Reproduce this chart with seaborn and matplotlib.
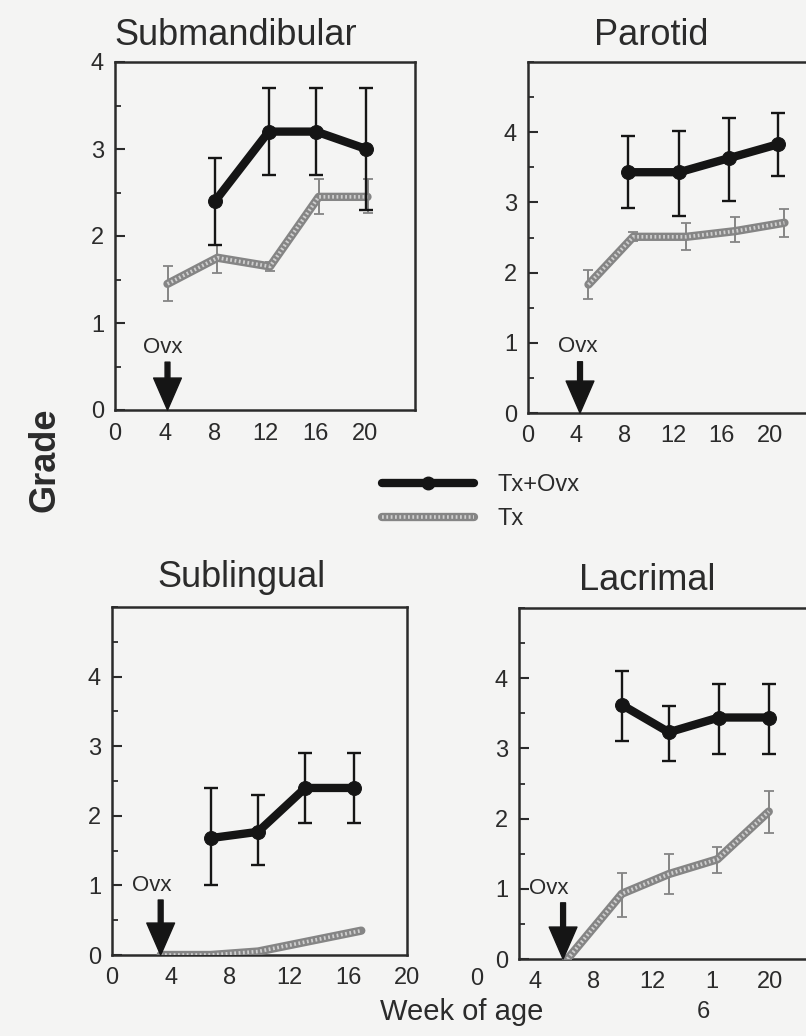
import numpy as np
import pandas as pd
import matplotlib
matplotlib.use("Agg")
import matplotlib.pyplot as plt
from matplotlib.lines import Line2D
from matplotlib.legend_handler import HandlerTuple
from matplotlib.ticker import MultipleLocator, FixedLocator
import matplotlib.transforms as mtransforms
import seaborn as sns

# ---------------- data ----------------
panel_titles = ["Submandibular", "Parotid", "Sublingual", "Lacrimal"]
series_names = ["Tx+Ovx", "Tx"]

# Submandibular
sm_ovx_x = [8.0, 12.3, 16.1, 20.1]
sm_ovx_y = [2.4, 3.2, 3.2, 3.0]
sm_ovx_lo = [1.9, 2.7, 2.7, 2.3]
sm_ovx_hi = [2.9, 3.7, 3.7, 3.7]
sm_tx_x = [4.2, 8.2, 12.4, 16.3, 20.2]
sm_tx_y = [1.45, 1.75, 1.65, 2.45, 2.45]
sm_tx_lo = [1.25, 1.57, 1.6, 2.25, 2.27]
sm_tx_hi = [1.65, 1.9, 1.7, 2.65, 2.65]

# Parotid
pa_ovx_x = [8.3, 12.5, 16.6, 20.7]
pa_ovx_y = [3.43, 3.43, 3.63, 3.83]
pa_ovx_lo = [2.92, 2.8, 3.02, 3.38]
pa_ovx_hi = [3.94, 4.02, 4.2, 4.27]
pa_tx_x = [5.0, 8.7, 13.1, 17.1, 21.2]
pa_tx_y = [1.83, 2.51, 2.51, 2.59, 2.71]
pa_tx_lo = [1.63, 2.45, 2.32, 2.43, 2.51]
pa_tx_hi = [2.04, 2.58, 2.71, 2.79, 2.9]

# Sublingual
sl_ovx_x = [6.7, 9.9, 13.1, 16.4]
sl_ovx_y = [1.68, 1.77, 2.4, 2.4]
sl_ovx_lo = [1.0, 1.3, 1.9, 1.9]
sl_ovx_hi = [2.4, 2.3, 2.9, 2.9]
sl_tx_x = [3.3, 6.7, 9.9, 13.4, 16.9]
sl_tx_y = [0.0, 0.0, 0.05, 0.2, 0.35]

# Lacrimal
la_ovx_x = [9.9, 13.1, 16.5, 19.9]
la_ovx_y = [3.62, 3.23, 3.44, 3.44]
la_ovx_lo = [3.1, 2.82, 2.92, 2.92]
la_ovx_hi = [4.1, 3.6, 3.92, 3.92]
la_tx_x = [6.2, 9.9, 13.1, 16.4, 19.9]
la_tx_y = [0.0, 0.93, 1.21, 1.42, 2.1]
la_tx_lo = [0.0, 0.6, 0.92, 1.22, 1.8]
la_tx_hi = [0.0, 1.22, 1.5, 1.6, 2.4]

# Ovx arrow (week) and label position
ovx_arrow_x = [4.2, 4.3, 3.3, 5.9]
ovx_text_x = [3.8, 4.1, 2.7, 4.9]
ovx_text_y = [0.72, 0.95, 1.0, 1.0]
ovx_arrow_top = [0.55, 0.73, 0.79, 0.8]

x_ticks = [0, 4, 8, 12, 16, 20]
x_ticklabels = ["0", "4", "8", "12", "16", "20"]
lac_ticks = [4, 8, 12, 16, 20]
lac_ticklabels = ["4", "8", "12", "1", "20"]
y_ticks = [0, 1, 2, 3, 4]
y_max = [4, 5, 5, 5]
x_lims = [(0, 24), (0, 24.8), (0, 19.7), (2.9, 24.0)]

# ---------------- style ----------------
sns.set_theme(style="white")
plt.rcParams["font.family"] = ["Liberation Sans", "DejaVu Sans"]
BG = "#f4f4f3"
INK = "#2b2b2b"
BLACK = "#151515"
GRAY = "#858585"
GRAY_LIGHT = "#cfcfcf"
TICK_FS = 17

fig = plt.figure(figsize=(8.06, 10.36), dpi=100, facecolor=BG)

W, H = 806.0, 1036.0
def rect(left, top, right, bottom):
    return [left / W, 1 - bottom / H, (right - left) / W, (bottom - top) / H]

positions = [
    rect(115, 62, 415, 410),
    rect(528, 62, 828, 413),
    rect(112, 607, 407, 955),
    rect(519, 608, 829, 959),
]

panels = [
    (sm_ovx_x, sm_ovx_y, sm_ovx_lo, sm_ovx_hi, sm_tx_x, sm_tx_y, sm_tx_lo, sm_tx_hi),
    (pa_ovx_x, pa_ovx_y, pa_ovx_lo, pa_ovx_hi, pa_tx_x, pa_tx_y, pa_tx_lo, pa_tx_hi),
    (sl_ovx_x, sl_ovx_y, sl_ovx_lo, sl_ovx_hi, sl_tx_x, sl_tx_y, None, None),
    (la_ovx_x, la_ovx_y, la_ovx_lo, la_ovx_hi, la_tx_x, la_tx_y, la_tx_lo, la_tx_hi),
]

TX_LW = 6.0
TX_DOT = (0, (0.5, 0.7))

def draw_tx(ax, x, y, lo, hi):
    df = pd.DataFrame({"week": x, "grade": y})
    if lo is not None:
        yerr = [np.array(y) - np.array(lo), np.array(hi) - np.array(y)]
        ax.errorbar(x, y, yerr=yerr, fmt="none", ecolor=GRAY, elinewidth=1.4,
                    capsize=3.5, capthick=1.3, linestyle=":", zorder=3)
    sns.lineplot(data=df, x="week", y="grade", ax=ax, color=GRAY, lw=TX_LW,
                 sort=False, legend=False, zorder=4, solid_capstyle="round")
    sns.lineplot(data=df, x="week", y="grade", ax=ax, color=GRAY_LIGHT, lw=2.6,
                 sort=False, legend=False, zorder=5, linestyle=TX_DOT)

def draw_ovx(ax, x, y, lo, hi):
    df = pd.DataFrame({"week": x, "grade": y})
    yerr = [np.array(y) - np.array(lo), np.array(hi) - np.array(y)]
    ax.errorbar(x, y, yerr=yerr, fmt="none", ecolor=BLACK, elinewidth=1.7,
                capsize=5, capthick=1.7, zorder=6)
    sns.lineplot(data=df, x="week", y="grade", ax=ax, color=BLACK, lw=6.0,
                 marker="o", markersize=10, markeredgecolor=BLACK,
                 sort=False, legend=False, zorder=7)

axes = []
for i, pos in enumerate(positions):
    ax = fig.add_axes(pos)
    ax.set_facecolor(BG)
    axes.append(ax)
    ox, oy, olo, ohi, tx, ty, tlo, thi = panels[i]
    draw_tx(ax, tx, ty, tlo, thi)
    draw_ovx(ax, ox, oy, olo, ohi)

    ax.set_xlim(*x_lims[i])
    ax.set_ylim(0, y_max[i])
    ax.set_xlabel("")
    ax.set_ylabel("")
    ax.yaxis.set_major_locator(FixedLocator(y_ticks))
    ax.yaxis.set_minor_locator(MultipleLocator(0.5))
    if i == 3:
        ax.set_xticks(lac_ticks)
        ax.set_xticklabels(lac_ticklabels)
    else:
        ax.set_xticks(x_ticks)
        ax.set_xticklabels(x_ticklabels)
    ax.tick_params(axis="x", length=0, pad=9, labelsize=TICK_FS, labelcolor=INK)
    ax.tick_params(axis="y", which="major", direction="in", length=7, width=1.5,
                   color=INK, pad=8, labelsize=TICK_FS, labelcolor=INK, left=True)
    ax.tick_params(axis="y", which="minor", direction="in", length=4, width=1.3,
                   color=INK, left=True)
    for sp in ax.spines.values():
        sp.set_visible(True)
        sp.set_color(INK)
        sp.set_linewidth(1.8)

    # Ovx marker arrow
    ax.annotate("", xy=(ovx_arrow_x[i], 0), xytext=(ovx_arrow_x[i], ovx_arrow_top[i]),
                arrowprops=dict(facecolor=BLACK, edgecolor=BLACK, width=3.5,
                                headwidth=20, headlength=23, shrink=0),
                annotation_clip=False, zorder=9)
    ax.text(ovx_text_x[i], ovx_text_y[i], "Ovx", ha="center", va="center",
            fontsize=16, color=INK, zorder=9)

# extra "0" below Lacrimal axis (outside its x-range)
trans = mtransforms.blended_transform_factory(axes[3].transData, axes[3].transAxes)
axes[3].text(0.0, -0.027, "0", transform=trans, ha="center", va="top",
             fontsize=TICK_FS, color=INK, clip_on=False)

# Titles
title_pos = [(236, 45), (651, 45), (241, 587), (647, 590)]
for t, (tx_, ty_) in zip(panel_titles, title_pos):
    fig.text(tx_ / W, 1 - ty_ / H, t, ha="center", va="baseline",
             fontsize=26, color=INK)

# Axis labels
fig.text(45 / W, 1 - 460 / H, "Grade", rotation=90, ha="center", va="center",
         fontsize=26, fontweight="bold", color=INK)
fig.text(462 / W, 1 - 1012 / H, "Week of age", ha="center", va="center",
         fontsize=21, color=INK)
fig.text(703 / W, 1 - 1012 / H, "6", ha="center", va="center",
         fontsize=TICK_FS, color=INK)

# Legend
h_ovx = Line2D([], [], color=BLACK, lw=6.0, marker="o", markersize=9)
h_tx_a = Line2D([], [], color=GRAY, lw=TX_LW)
h_tx_b = Line2D([], [], color=GRAY_LIGHT, lw=2.6, linestyle=TX_DOT)
leg = fig.legend([h_ovx, (h_tx_a, h_tx_b)], series_names,
                 handler_map={tuple: HandlerTuple(ndivide=1, pad=0)},
                 loc="center left", bbox_to_anchor=(382 / W, 1 - 502 / H),
                 frameon=False, fontsize=17, handlelength=3.9,
                 handletextpad=1.0, labelspacing=0.5, borderpad=0,
                 borderaxespad=0, numpoints=1)
for txt in leg.get_texts():
    txt.set_color(INK)

fig.savefig("out.png", dpi=100, facecolor=BG)
